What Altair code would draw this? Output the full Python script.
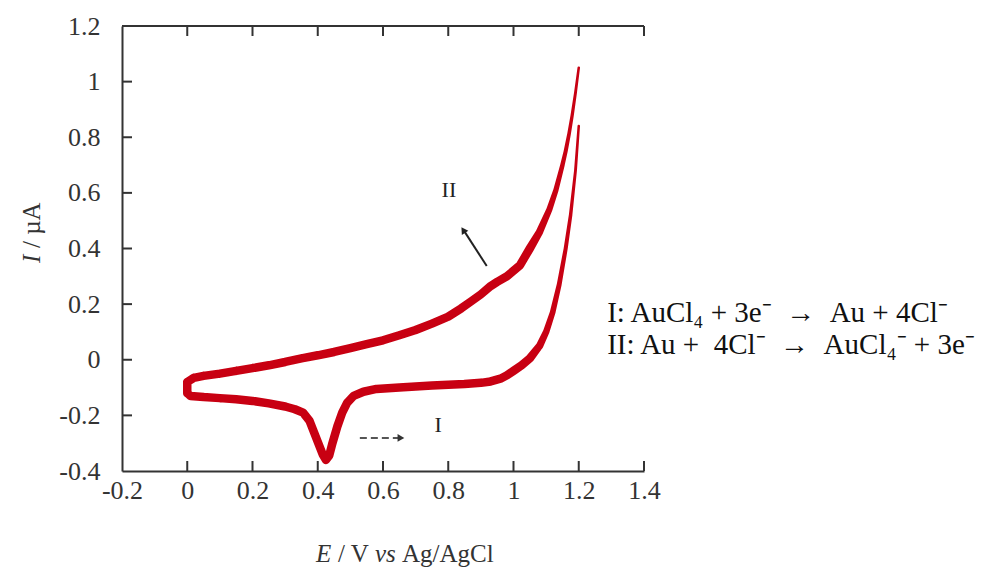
import altair as alt
import pandas as pd

# ---------------- data ----------------
# return (upper) branch, scanned from 1.2 V back to 0 V
upper_E = [1.2, 1.19, 1.18, 1.17, 1.16, 1.15, 1.13, 1.11, 1.08, 1.05, 1.02, 0.98,
           0.95, 0.93, 0.9, 0.87, 0.84, 0.8, 0.75, 0.7, 0.65, 0.6, 0.55, 0.5, 0.45,
           0.4, 0.35, 0.3, 0.25, 0.2, 0.15, 0.1, 0.05, 0.02, 0.0]
upper_I = [1.05, 0.96, 0.88, 0.81, 0.75, 0.70, 0.61, 0.54, 0.46, 0.40, 0.34, 0.30,
           0.28, 0.265, 0.235, 0.21, 0.185, 0.155, 0.13, 0.107, 0.088, 0.07, 0.056,
           0.042, 0.028, 0.016, 0.005, -0.008, -0.02, -0.03, -0.04, -0.05, -0.058,
           -0.065, -0.08]
# forward (lower) branch, scanned from 0 V to 1.2 V
lower_E = [0.0, 0.01, 0.05, 0.1, 0.15, 0.2, 0.25, 0.3, 0.33, 0.355, 0.375, 0.39,
           0.405, 0.415, 0.425, 0.435, 0.445, 0.46, 0.475, 0.49, 0.51, 0.54, 0.58,
           0.65, 0.75, 0.85, 0.9, 0.93, 0.96, 0.98, 1.0, 1.025, 1.05, 1.08, 1.1,
           1.12, 1.14, 1.16, 1.175, 1.19, 1.2]
lower_I = [-0.12, -0.13, -0.134, -0.138, -0.142, -0.148, -0.157, -0.168, -0.178,
           -0.19, -0.22, -0.265, -0.31, -0.34, -0.36, -0.345, -0.30, -0.24, -0.19,
           -0.155, -0.13, -0.115, -0.105, -0.1, -0.093, -0.087, -0.083, -0.078,
           -0.068, -0.056, -0.04, -0.02, 0.005, 0.05, 0.1, 0.17, 0.27, 0.40, 0.52,
           0.68, 0.84]

x_ticks = [-0.2, 0, 0.2, 0.4, 0.6, 0.8, 1, 1.2, 1.4]
y_ticks = [-0.4, -0.2, 0, 0.2, 0.4, 0.6, 0.8, 1, 1.2]
x_inner_ticks = [0, 0.2, 0.4, 0.6, 0.8, 1, 1.2, 1.4]
y_inner_ticks = [-0.2, 0, 0.2, 0.4, 0.6, 0.8, 1]

NB = "\u00a0"
equations = ["I: AuCl\u2084 + 3e\u207b" + NB * 2 + "\u2192" + NB * 2 + "Au + 4Cl\u207b",
             "II: Au +" + NB * 2 + "4Cl\u207b" + NB * 2 + "\u2192" + NB * 2 + "AuCl\u2084\u207b + 3e\u207b"]

# ---------------- tables ----------------
E_all = upper_E + lower_E
I_all = upper_I + lower_I
cv_df = pd.DataFrame({"E": E_all, "I": I_all, "k": list(range(len(E_all)))})

W, H = 522, 445
RED = "#C80012"
SERIF = "Liberation Serif"
AX = "#333333"

xs = alt.Scale(domain=[-0.2, 1.4], nice=False, zero=False)
ys = alt.Scale(domain=[-0.4, 1.2], nice=False, zero=False)

x_axis = alt.Axis(values=x_ticks, labelExpr="'' + datum.value", ticks=False, tickSize=0,
                  domainColor=AX, domainWidth=2, labelFont=SERIF, labelFontSize=26,
                  labelColor=AX, labelPadding=6, grid=False, title=None,
                  labelFlush=False, labelOverlap=False)
y_axis = alt.Axis(values=y_ticks, labelExpr="'' + datum.value", ticks=False, tickSize=0,
                  domainColor=AX, domainWidth=2, labelFont=SERIF, labelFontSize=26,
                  labelColor=AX, labelPadding=22, grid=False, title=None,
                  labelFlush=False, labelOverlap=False)

cv = alt.Chart(cv_df).transform_calculate(
    w="datum.E <= 1.05 ? 8.5 : 8.5 - (datum.E - 1.05) * 40"
).mark_trail(color=RED).encode(
    x=alt.X("E:Q", scale=xs, axis=x_axis),
    y=alt.Y("I:Q", scale=ys, axis=y_axis),
    order=alt.Order("k:Q"),
    size=alt.Size("w:Q", scale=None, legend=None),
)

one = alt.Data(values=[{"a": 1}])

def X(f="E"):
    return alt.X(f + ":Q", scale=xs, title=None)

def Y(f="I"):
    return alt.Y(f + ":Q", scale=ys, title=None)

# inward ticks
bottom_ticks = alt.Chart(pd.DataFrame({"E": x_inner_ticks})).mark_rule(
    color=AX, strokeWidth=2).encode(x=X(), y=alt.value(H), y2=alt.value(H - 10))
top_ticks = alt.Chart(pd.DataFrame({"E": x_inner_ticks})).mark_rule(
    color=AX, strokeWidth=2).encode(x=X(), y=alt.value(0), y2=alt.value(10))
left_ticks = alt.Chart(pd.DataFrame({"I": y_inner_ticks})).mark_rule(
    color=AX, strokeWidth=2).encode(y=Y(), x=alt.value(0), x2=alt.value(10))
top_line = alt.Chart(one).mark_rule(color=AX, strokeWidth=2).encode(
    x=alt.value(0), x2=alt.value(W), y=alt.value(0))

# axis titles (mixed italic / upright)
def txt(s, x, y, italic=False, size=25, angle=0, baseline="alphabetic"):
    props = dict(text=s, font=SERIF, fontSize=size, color=AX, align="left",
                 baseline=baseline, fontStyle="italic" if italic else "normal")
    if angle:
        props["angle"] = angle
    return alt.Chart(one).mark_text(**props).encode(x=alt.value(x), y=alt.value(y))

xt0 = 194
x_title = [
    txt("E", xt0, 536, italic=True),
    txt("/ V", xt0 + 22, 536),
    txt("vs", xt0 + 59, 536, italic=True),
    txt("Ag/AgCl", xt0 + 86, 536),
]
y_title = [
    txt("I", -90, 237, italic=True, angle=270, baseline="middle"),
    txt("/ \u00b5A", -90, 222, angle=270, baseline="middle"),
]

# annotations: arrows and labels in data coordinates
arrow2 = alt.Chart(pd.DataFrame({"E": [0.918], "I": [0.337], "E2": [0.846], "I2": [0.468]})).mark_rule(
    color="#222222", strokeWidth=2).encode(x=X(), y=Y(), x2="E2:Q", y2="I2:Q")
head2 = alt.Chart(pd.DataFrame({"E": [0.846], "I": [0.466]})).mark_point(
    shape="triangle-up", filled=True, color="#222222", size=60, angle=327, opacity=1).encode(
    x=X(), y=Y())
arrow1 = alt.Chart(pd.DataFrame({"E": [0.529], "I": [-0.281], "E2": [0.65], "I2": [-0.281]})).mark_rule(
    color="#555555", strokeWidth=2, strokeDash=[7, 4]).encode(x=X(), y=Y(), x2="E2:Q", y2="I2:Q")
head1 = alt.Chart(pd.DataFrame({"E": [0.655], "I": [-0.281]})).mark_point(
    shape="triangle-right", filled=True, color="#333333", size=60, opacity=1).encode(
    x=X(), y=Y())

labels = alt.Chart(pd.DataFrame({"E": [0.802, 0.769], "I": [0.61, -0.235], "t": ["II", "I"]})).mark_text(
    font=SERIF, fontSize=22, color="#222222", align="center", baseline="middle").encode(
    x=X(), y=Y(), text="t:N")

eq = alt.Chart(pd.DataFrame({"E": [1.287, 1.287], "I": [0.168, 0.053], "t": equations})).mark_text(
    font=SERIF, fontSize=29, color="#111111", align="left", baseline="middle").encode(
    x=X(), y=Y(), text="t:N")

chart = alt.layer(
    cv, bottom_ticks, top_ticks, left_ticks, top_line,
    *x_title, *y_title, arrow2, head2, arrow1, head1, labels, eq
).properties(
    width=W, height=H,
    autosize=alt.AutoSizeParams(type="none"),
    padding={"left": 122, "top": 26, "right": 345, "bottom": 99},
).configure_view(stroke=None)

chart.save("out.html", embed_options={"renderer": "svg", "actions": False})
